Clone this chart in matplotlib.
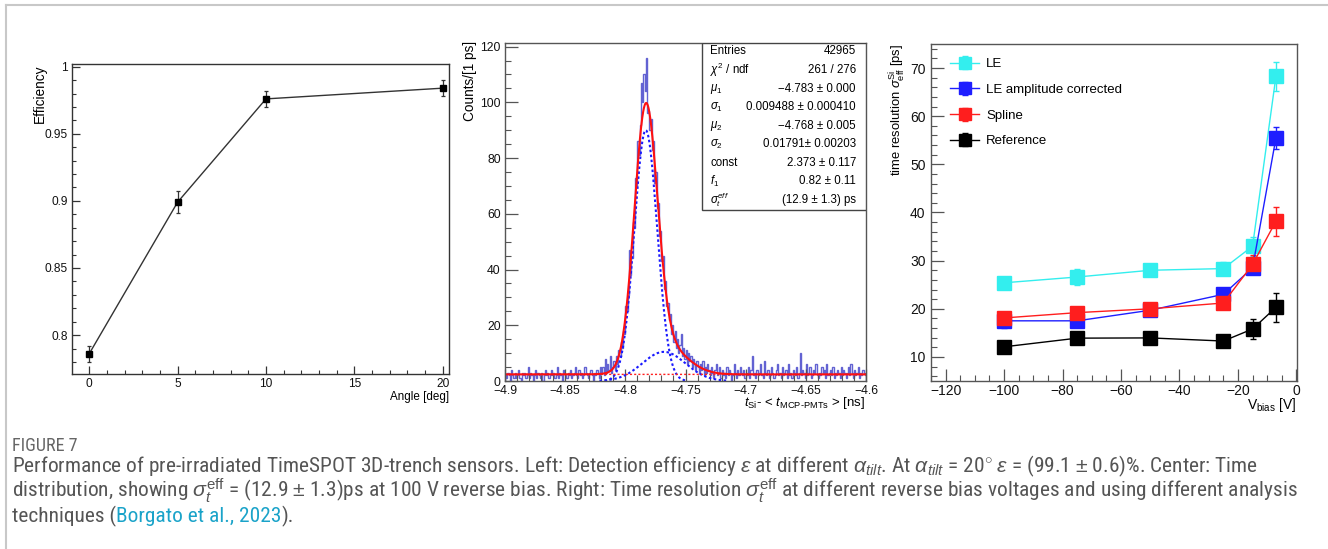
import numpy as np
import matplotlib
matplotlib.use('Agg')
import matplotlib.pyplot as plt
from matplotlib.ticker import MultipleLocator, FuncFormatter
from matplotlib.lines import Line2D
from matplotlib.patches import Rectangle
import logging
logging.getLogger('matplotlib.font_manager').setLevel(logging.ERROR)

plt.rcParams['font.family'] = ['Liberation Sans', 'DejaVu Sans']
plt.rcParams['mathtext.fontset'] = 'custom'
plt.rcParams['mathtext.rm'] = 'Liberation Sans'
plt.rcParams['mathtext.it'] = 'Liberation Sans:italic'
plt.rcParams['mathtext.bf'] = 'Liberation Sans:bold'
plt.rcParams['axes.unicode_minus'] = True

# ---------------- data: left panel ----------------
angle_deg = [0, 5, 10, 20]
efficiency = [0.786, 0.899, 0.976, 0.984]
efficiency_err = [0.006, 0.008, 0.006, 0.006]

# ---------------- data: centre panel ----------------
hist_range = (-4.9, -4.6)
hist_counts = [
    2, 1, 3, 2, 0, 4, 2, 1, 3, 1, 2, 4, 1, 0, 3, 2, 3, 1, 2, 5,
    1, 3, 2, 0, 2, 4, 1, 3, 2, 1, 3, 0, 2, 4, 2, 3, 1, 2, 4, 2,
    3, 1, 2, 5, 1, 3, 2, 0, 4, 3, 2, 1, 3, 2, 4, 1, 2, 3, 5, 2,
    1, 4, 2, 3, 1, 2, 5, 3, 2, 1, 3, 4, 2, 0, 3, 2, 4, 3, 1, 5,
    3, 5, 2, 8, 3, 6, 4, 9, 3, 5, 7, 4, 9, 6, 11, 9, 14, 12, 18, 17,
    27, 25, 31, 47, 38, 44, 57, 55, 73, 70, 86, 81, 92, 107, 100, 110, 104,
    116, 96, 97, 90, 94, 83, 86, 71, 75, 62, 64, 52, 54, 43, 45, 33, 36, 27, 28,
    22, 24, 17, 20, 14, 18, 12, 15, 10, 13, 17, 9, 12, 8, 11, 6, 10, 7, 9, 5,
    8, 6, 4, 7, 5,
    3, 6, 4, 7, 2, 5, 3, 6, 4, 2, 5, 3, 1, 4, 6, 2, 3, 5, 1, 4,
    2, 3, 1, 5, 2, 4, 3, 0, 2, 6, 3, 1, 4, 2, 5, 3, 2, 4, 1,
    3, 2, 5, 1, 4, 9, 2, 3, 1, 4, 2, 3, 6, 2, 1, 7, 3, 2, 4, 1,
    2, 5, 3, 1, 2, 4, 6, 2, 3, 1, 5, 2, 3, 4, 1, 6, 2, 3, 1, 4,
    3, 2, 5, 1, 3, 10, 2, 4, 3, 1, 6, 2, 3, 5, 1, 2, 4, 3, 6, 2,
    1, 3, 2, 5, 3, 4, 1, 6, 2, 3, 4, 2, 5, 1, 3, 2, 4, 3, 1, 5,
    2, 4, 3, 1, 3, 5, 2, 6, 3, 1, 4, 2, 3, 5, 1, 3, 2, 4, 3, 2,
]
fit_mu1, fit_sigma1 = -4.783, 0.009488
fit_mu2, fit_sigma2 = -4.768, 0.01791
fit_const = 2.373
fit_f1 = 0.82
fit_norm = 2.61   # integral of the two-gaussian part (counts * ns), read from peak height

stats_names = ["Entries", r"$\chi^{2}$ / ndf", r"$\mu_{1}$", r"$\sigma_{1}$", r"$\mu_{2}$",
               r"$\sigma_{2}$", "const", r"$f_{1}$", r"$\sigma_{t}^{eff}$"]
stats_values = ["42965", "261 / 276", "\u22124.783 \u00b1 0.000", "0.009488 \u00b1 0.000410",
                "\u22124.768 \u00b1 0.005", "0.01791\u00b1 0.00203", "2.373 \u00b1 0.117",
                "0.82 \u00b1 0.11", "(12.9 \u00b1 1.3) ps"]

# ---------------- data: right panel ----------------
vbias = [-100, -75, -50, -25, -15, -7]
series_names = ["LE", "LE amplitude corrected", "Spline", "Reference"]
le_vals = [25.4, 26.6, 28.0, 28.35, 33.0, 68.3]
le_err = [1.3, 1.7, 1.0, 1.4, 2.0, 3.0]
lecorr_vals = [17.5, 17.5, 19.7, 23.0, 28.5, 55.5]
lecorr_err = [1.5, 1.0, 0.5, 1.0, 1.0, 2.3]
spline_vals = [18.1, 19.2, 20.0, 21.2, 29.2, 38.2]
spline_err = [0.8, 0.8, 0.6, 1.2, 2.0, 3.0]
ref_vals = [12.1, 13.9, 13.95, 13.3, 15.8, 20.3]
ref_err = [0.5, 0.5, 0.5, 1.0, 2.0, 3.0]

# ---------------- figure ----------------
W, H = 1328, 549
fig = plt.figure(figsize=(W / 100, H / 100), dpi=100)
fig.patch.set_facecolor('white')


def fx(x):
    return x / W


def fy(y):
    return 1 - y / H


def ax_rect(x0, y0, x1, y1):
    return [fx(x0), fy(y1), (x1 - x0) / W, (y1 - y0) / H]


def fmt_g(v, pos=None):
    s = '%g' % round(v, 6)
    return s.replace('-', '\u2212')


# outer light frame
fig.add_artist(Line2D([fx(6), 1], [fy(4.5), fy(4.5)], color='#c8c8c8', lw=1.5))
fig.add_artist(Line2D([fx(6), fx(6)], [fy(4.5), 0], color='#c8c8c8', lw=1.5))


def style_axes(ax, spine_color, major_len, minor_len, lsize, pad):
    for s in ax.spines.values():
        s.set_color(spine_color)
        s.set_linewidth(1.0)
    ax.tick_params(which='both', direction='in', top=False, right=False,
                   colors=spine_color, labelcolor='#111111', labelsize=lsize, pad=pad)
    ax.tick_params(which='major', length=major_len, width=0.9)
    ax.tick_params(which='minor', length=minor_len, width=0.8)


# ---------- left panel ----------
ax1 = fig.add_axes(ax_rect(72, 64, 449, 374))
ax1.errorbar(angle_deg, efficiency, yerr=efficiency_err, fmt='s-', color='#333333',
             mfc='black', mec='black', ms=5, lw=1.0, elinewidth=0.9, capsize=1.5, capthick=0.9)
ax1.set_xlim(-0.97, 20.35)
ax1.set_ylim(0.771, 1.002)
ax1.xaxis.set_major_locator(MultipleLocator(5))
ax1.xaxis.set_minor_locator(MultipleLocator(1))
ax1.yaxis.set_major_locator(MultipleLocator(0.05))
ax1.yaxis.set_minor_locator(MultipleLocator(0.01))
ax1.xaxis.set_major_formatter(FuncFormatter(fmt_g))
ax1.yaxis.set_major_formatter(FuncFormatter(fmt_g))
style_axes(ax1, '#333333', 5.5, 3, 8.6, 3)
fig.text(fx(40), fy(64), "Efficiency", rotation=90, ha='center', va='top', fontsize=9.8)
fig.text(fx(449), fy(400), "Angle [deg]", ha='right', va='baseline', fontsize=8.4)

# ---------- centre panel ----------
ax2 = fig.add_axes(ax_rect(505, 43, 866, 381))
edges = np.linspace(hist_range[0], hist_range[1], len(hist_counts) + 1)
ax2.stairs(hist_counts, edges, color='#6262d2', lw=1.0)
xf = np.linspace(hist_range[0], hist_range[1], 1500)
g1 = fit_norm * fit_f1 / (np.sqrt(2 * np.pi) * fit_sigma1) * np.exp(-0.5 * ((xf - fit_mu1) / fit_sigma1) ** 2)
g2 = fit_norm * (1 - fit_f1) / (np.sqrt(2 * np.pi) * fit_sigma2) * np.exp(-0.5 * ((xf - fit_mu2) / fit_sigma2) ** 2)
m1 = np.abs(xf - fit_mu1) < 3.6 * fit_sigma1
m2 = np.abs(xf - fit_mu2) < 3.0 * fit_sigma2
ax2.plot(xf[m1], g1[m1], color='#1a1aff', lw=1.5, ls=(0, (1.2, 1.2)))
ax2.plot(xf[m2], g2[m2], color='#1a1aff', lw=1.5, ls=(0, (1.2, 1.2)))
ax2.plot(xf, np.full_like(xf, fit_const), color='#ff2020', lw=1.0, ls=(0, (1.5, 1.5)))
ax2.plot(xf, fit_const + g1 + g2, color='#ff1010', lw=1.5)
ax2.set_xlim(*hist_range)
ax2.set_ylim(0, 121.3)
ax2.xaxis.set_major_locator(MultipleLocator(0.05))
ax2.xaxis.set_minor_locator(MultipleLocator(0.01))
ax2.yaxis.set_major_locator(MultipleLocator(20))
ax2.yaxis.set_minor_locator(MultipleLocator(5))
ax2.xaxis.set_major_formatter(FuncFormatter(fmt_g))
ax2.yaxis.set_major_formatter(FuncFormatter(fmt_g))
style_axes(ax2, '#555555', 9, 4.5, 8.8, 3)
fig.text(fx(470), fy(41), "Counts/[1 ps]", rotation=90, ha='center', va='top', fontsize=9.8)
fig.text(fx(865), fy(406), r"$t_{\mathrm{Si}}$- < $t_{\mathrm{MCP\text{-}PMTs}}$ > [ns]",
         ha='right', va='baseline', fontsize=9.5)
# stats box
ax2.add_patch(Rectangle((0.5465, 0.506), 0.4535, 0.494, transform=ax2.transAxes,
                        fill=True, facecolor='white', edgecolor='#444444', lw=1.0, zorder=5))
row0, drow = 51.5, 18.56
for k, (nm, vl) in enumerate(zip(stats_names, stats_values)):
    ypx = row0 + k * drow
    yax = (381 - ypx) / 338
    ax2.text(0.568, yax, nm, transform=ax2.transAxes, ha='left', va='center', fontsize=8.3, zorder=6)
    ax2.text(0.972, yax, vl, transform=ax2.transAxes, ha='right', va='center', fontsize=8.3, zorder=6)

# ---------- right panel ----------
ax3 = fig.add_axes(ax_rect(931, 44, 1297, 381))
series = [(le_vals, le_err, '#33eeee'), (lecorr_vals, lecorr_err, '#1e1eff'),
          (spline_vals, spline_err, '#ff1e1e'), (ref_vals, ref_err, '#000000')]
handles = []
for (vals, errs, col), name in zip(series, series_names):
    h = ax3.errorbar(vbias, vals, yerr=errs, fmt='s-', color=col, ms=10, lw=1.0,
                     elinewidth=1.0, capsize=2.5, capthick=1.0, label=name)
    handles.append(h)
ax3.set_xlim(-125, 0.2)
ax3.set_ylim(5, 75)
ax3.xaxis.set_major_locator(MultipleLocator(20))
ax3.xaxis.set_minor_locator(MultipleLocator(5))
ax3.yaxis.set_major_locator(MultipleLocator(10))
ax3.yaxis.set_minor_locator(MultipleLocator(2))
ax3.xaxis.set_major_formatter(FuncFormatter(fmt_g))
ax3.yaxis.set_major_formatter(FuncFormatter(fmt_g))
style_axes(ax3, '#555555', 9, 4.5, 10, 4)
ax3.tick_params(axis='x', pad=2.0)
leg = ax3.legend(handles, series_names, loc='upper left', bbox_to_anchor=(0.052, 0.958),
                 frameon=False, fontsize=9.5, handlelength=2.2, handletextpad=0.55,
                 labelspacing=1.02, borderpad=0, borderaxespad=0, markerscale=0.9)
fig.text(fx(898), fy(44), r"time resolution $\sigma_{\mathrm{eff}}^{\mathrm{Si}}$ [ps]",
         rotation=90, ha='center', va='top', fontsize=9.4)
fig.text(fx(1296), fy(409), r"V$_{\mathrm{bias}}$ [V]", ha='right', va='baseline', fontsize=10)

# ---------- caption ----------
cap_family = ['Roboto Condensed', 'Liberation Sans Narrow', 'Noto Sans', 'Liberation Sans']
cap_kw = dict(family=cap_family, fontstretch='condensed')
body_col = '#555555'
link_col = '#1aa3c9'
line1 = (r"Performance of pre-irradiated TimeSPOT 3D-trench sensors. Left: Detection efficiency "
         r"$\varepsilon$ at different $\alpha_{tilt}$. At $\alpha_{tilt}$ = 20$^{\circ}$ $\varepsilon$ = "
         r"(99.1 $\pm$ 0.6)%. Center: Time")
line2 = (r"distribution, showing $\sigma_t^{\mathrm{eff}}$ = (12.9 $\pm$ 1.3)ps at 100 V reverse bias. "
         r"Right: Time resolution $\sigma_t^{\mathrm{eff}}$ at different reverse bias voltages and using "
         r"different analysis")
renderer = fig.canvas.get_renderer()
tmp = fig.text(0, 0, line2, fontsize=12, **cap_kw)
w12 = tmp.get_window_extent(renderer=renderer).width
tmp.remove()
cap_fs = 12 * (1295 - 12) / w12

fig.text(fx(12), fy(451), "FIGURE 7", fontsize=cap_fs * 0.85, color='#666666',
         ha='left', va='baseline', **cap_kw)
fig.text(fx(12), fy(472), line1, fontsize=cap_fs, color=body_col,
         ha='left', va='baseline', **cap_kw)
fig.text(fx(12), fy(497), line2, fontsize=cap_fs, color=body_col,
         ha='left', va='baseline', **cap_kw)
xcur = 12
for txt, col in [("techniques (", body_col), ("Borgato et al., 2023", link_col), (").", body_col)]:
    t = fig.text(fx(xcur), fy(522), txt, fontsize=cap_fs, color=col,
                 ha='left', va='baseline', **cap_kw)
    xcur += t.get_window_extent(renderer=renderer).width

fig.savefig('out.png', dpi=100, facecolor='white')
